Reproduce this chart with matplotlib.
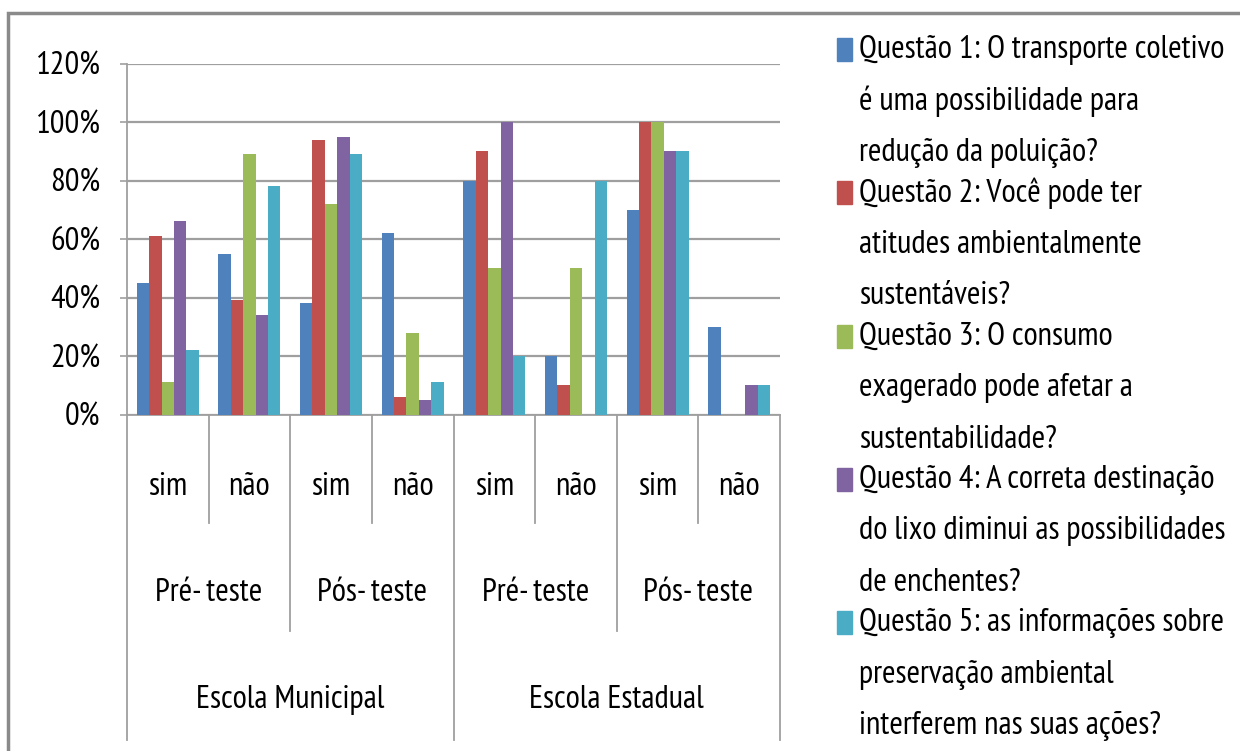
import matplotlib
matplotlib.use("Agg")
import matplotlib.pyplot as plt
from matplotlib.patches import Rectangle
from matplotlib.ticker import PercentFormatter

plt.rcParams['font.family'] = ['PT Sans Narrow', 'Liberation Sans', 'DejaVu Sans']

escolas = ['Escola Municipal', 'Escola Estadual']
momentos = ['Pré- teste', 'Pós- teste']
respostas = ['sim', 'não']

questoes = [
    'Questão 1: O transporte coletivo\né uma possibilidade para\nredução da poluição?',
    'Questão 2: Você pode ter\natitudes ambientalmente\nsustentáveis?',
    'Questão 3: O consumo\nexagerado pode afetar a\nsustentabilidade?',
    'Questão 4: A correta destinação\ndo lixo diminui as possibilidades\nde enchentes?',
    'Questão 5: as informações sobre\npreservação ambiental\ninterferem nas suas ações?',
]

# order: Municipal (Pré sim, Pré não, Pós sim, Pós não), Estadual (same)
q1 = [0.45, 0.55, 0.38, 0.62, 0.80, 0.20, 0.70, 0.30]
q2 = [0.61, 0.39, 0.94, 0.06, 0.90, 0.10, 1.00, 0.00]
q3 = [0.11, 0.89, 0.72, 0.28, 0.50, 0.50, 1.00, 0.00]
q4 = [0.66, 0.34, 0.95, 0.05, 1.00, 0.00, 0.90, 0.10]
q5 = [0.22, 0.78, 0.89, 0.11, 0.20, 0.80, 0.90, 0.10]
series = [q1, q2, q3, q4, q5]

cores = ['#4F81BD', '#C0504D', '#9BBB59', '#8064A2', '#4BACC6']
grid_cor = '#9f9f9f'
fs = 23.5

W, H = 1240, 751
fig = plt.figure(figsize=(W / 100, H / 100), dpi=100)
ax = fig.add_axes([127 / W, 1 - 414.5 / H, (780 - 127) / W, (414.5 - 63.5) / H])

n = len(q1)
largura = 0.152
for i, vals in enumerate(series):
    xs = [g + (i - 2) * largura for g in range(n)]
    ax.bar(xs, vals, width=largura, color=cores[i], zorder=3)

ax.set_xlim(-0.5, n - 0.5)
ax.set_ylim(0, 1.2)
ax.set_yticks([0, 0.2, 0.4, 0.6, 0.8, 1.0, 1.2])
ax.yaxis.set_major_formatter(PercentFormatter(1.0, decimals=0))
ax.yaxis.grid(True, color=grid_cor, linewidth=1.6, zorder=0)
ax.tick_params(axis='y', labelsize=fs, length=5, color=grid_cor, width=1.2, pad=14)
ax.set_xticks([])
for s in ['top', 'right']:
    ax.spines[s].set_visible(False)
for s in ['left', 'bottom']:
    ax.spines[s].set_color(grid_cor)
    ax.spines[s].set_linewidth(1.3)

# multilevel category axis
tr = ax.get_xaxis_transform()
for k in range(n + 1):
    if k % 4 == 0:
        y_fim = -0.927
    elif k % 2 == 0:
        y_fim = -0.617
    else:
        y_fim = -0.309
    ax.plot([k - 0.5, k - 0.5], [0, y_fim], transform=tr, color=grid_cor,
            linewidth=1.3, clip_on=False)

for g in range(n):
    ax.text(g, -0.2066, respostas[g % 2], transform=tr, ha='center', va='center',
            fontsize=fs)
for m in range(n // 2):
    ax.text(2 * m + 0.5, -0.5085, momentos[m % 2], transform=tr, ha='center',
            va='center', fontsize=fs)
for e in range(n // 4):
    ax.text(4 * e + 1.5, -0.8134, escolas[e], transform=tr, ha='center',
            va='center', fontsize=fs)

# legend drawn by hand
for i, texto in enumerate(questoes):
    y0 = 50 + i * 143.3
    fig.patches.append(Rectangle((837 / W, 1 - (y0 + 11) / H), 15 / W, 23 / H,
                                 transform=fig.transFigure, color=cores[i]))
    for j, linha in enumerate(texto.split('\n')):
        fig.text(859 / W, 1 - (y0 + j * 51.5) / H, linha, ha='left',
                 va='center', fontsize=fs)

# outer frame
fig.patches.append(Rectangle((8 / W, -0.05), 1.2, 1 - 13 / H + 0.05,
                             transform=fig.transFigure, fill=False,
                             edgecolor='#8a8a8a', linewidth=2.5))

fig.savefig('out.png', dpi=100)
